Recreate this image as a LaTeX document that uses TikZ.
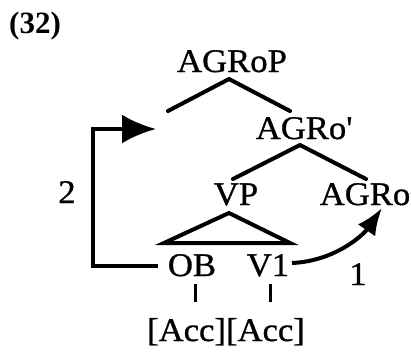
\documentclass[tikz,border=0pt]{standalone}
\usepackage{fontspec}
\setmainfont{Liberation Serif}
\newfontfamily\treefont{Liberation Serif}[FakeBold=0.9,FakeStretch=1.05]
\usetikzlibrary{arrows.meta}
\tikzset{
  lbl/.style={inner sep=0pt, anchor=base, font=\treefont\fontsize{33}{38}\selectfont},
  numlbl/.style={inner sep=0pt, anchor=base, font=\bfseries\fontsize{31}{36}\selectfont},
  branch/.style={line width=4pt, line cap=round},
  tick/.style={line width=3pt},
  move/.style={line width=4pt, line join=miter},
}
\begin{document}
\begin{tikzpicture}[x=1pt,y=-1pt]
\useasboundingbox (0,0) rectangle (411,351);
% labels
\node[numlbl] (ex) at (35,33) {(32)};
\node[lbl] (agrop) at (232,72) {AGRoP};
\node[lbl] (agrobar) at (304,139) {AGRo\textquotesingle};
\node[lbl] (vp) at (236,205) {VP};
\node[lbl] (agro) at (365,205) {AGRo};
\node[lbl] (two) at (67,203) {2};
\node[lbl] (ob) at (192,276) {OB};
\node[lbl] (v1) at (268,276) {V1};
\node[lbl] (one) at (358,285) {1};
\node[lbl] (acc) at (226,341) {[Acc][Acc]};
% tree coordinates
\coordinate (pA) at (229,79);
\coordinate (pL) at (168,111);
\coordinate (pR) at (290,111);
\coordinate (bA) at (300,145);
\coordinate (bL) at (233,179);
\coordinate (bR) at (366,179);
\coordinate (tA) at (229,213);
\coordinate (tL) at (164,243);
\coordinate (tR) at (290,243);
\coordinate (k1t) at (195,284);
\coordinate (k1b) at (195,302);
\coordinate (k2t) at (270,284);
\coordinate (k2b) at (270,302);
% branches
\draw[branch] (pL) -- (pA) -- (pR);
\draw[branch] (bL) -- (bA) -- (bR);
\draw[branch, line join=miter] (tA) -- (tL) -- (tR) -- cycle;
\draw[tick] (k1t) -- (k1b);
\draw[tick] (k2t) -- (k2b);
% movement 2
\coordinate (m0) at (158,266);
\coordinate (m1) at (93,266);
\coordinate (m2) at (93,129);
\coordinate (m3) at (156,129);
\draw[move, -{Latex[length=34pt,width=29pt]}] (m0) -- (m1) -- (m2) -- (m3);
% movement 1
\coordinate (c0) at (292,263);
\coordinate (c1) at (382,208);
\draw[move, -{Latex[length=27pt,width=21pt]}] (c0) .. controls (336,261) and (364,234) .. (c1);
\end{tikzpicture}
\end{document}
